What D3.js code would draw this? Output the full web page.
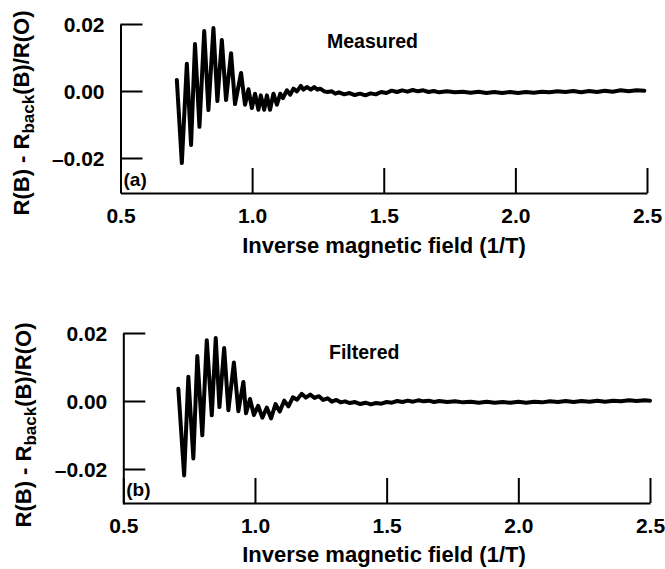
<!DOCTYPE html>
<html>
<head>
<meta charset="utf-8">
<script src="https://cdn.jsdelivr.net/npm/d3@7"></script>
<style>
  html, body { margin: 0; padding: 0; background: #fff; }
  svg { display: block; font-family: "Liberation Sans", Arial, Helvetica, sans-serif; }
  .tick text { font-size: 21px; font-weight: 700; fill: #000; }
  .lbl { font-weight: 700; fill: #000; }
</style>
</head>
<body>
<svg id="fig" width="665" height="569"></svg>
<script>
/* Quantum oscillations vs inverse field — measured and filtered trace.
   Values (extrema + a few points on the flat tail). */

const xTicks = [0.5, 1.0, 1.5, 2.0, 2.5];
const xTickLabels = ["0.5", "1.0", "1.5", "2.0", "2.5"];
const yTicks = [0.02, 0.0, -0.02];
const yTickLabels = ["0.02", "0.00", "\u20130.02"];

// panel (a) measured: [1/B, dR]
const measured = [
  [0.714, 0.0033], [0.733, -0.0215], [0.752, 0.0081], [0.768, -0.0161], [0.783, 0.0140],
  [0.800, -0.0107], [0.818, 0.0179], [0.834, -0.0057], [0.853, 0.0188], [0.868, -0.0030],
  [0.885, 0.0152], [0.901, -0.0027], [0.920, 0.0113], [0.935, -0.0039], [0.958, 0.0054],
  [0.973, -0.0041], [0.986, 0.0005], [0.999, -0.0051], [1.011, -0.0008], [1.024, -0.0056],
  [1.033, -0.0013], [1.046, -0.0056], [1.056, -0.0013], [1.068, -0.0056], [1.081, -0.0008],
  [1.094, -0.0041], [1.107, -0.0008], [1.117, -0.0021], [1.132, 0.0002], [1.145, -0.0011],
  [1.157, 0.0007], [1.170, -0.0001], [1.185, 0.0015], [1.195, 0.0004], [1.208, 0.0012],
  [1.223, 0.0004], [1.236, 0.0012], [1.248, 0.0004], [1.259, 0.0007], [1.274, -0.0001],
  [1.286, -0.0003], [1.303, -0.0001], [1.316, -0.0008], [1.33, -0.0004], [1.35, -0.0010],
  [1.37, -0.0006], [1.39, -0.0012], [1.41, -0.0008], [1.43, -0.0013], [1.45, -0.0007],
  [1.47, -0.0010], [1.49, -0.0003], [1.51, -0.0006], [1.53, 0.0001], [1.55, -0.0003],
  [1.57, 0.0002], [1.59, -0.0002], [1.61, 0.0003], [1.63, -0.0001], [1.65, 0.0002],
  [1.67, -0.0003], [1.69, 0.0000], [1.71, -0.0004], [1.74, -0.0001], [1.77, -0.0004],
  [1.80, -0.0002], [1.83, -0.0005], [1.86, -0.0002], [1.89, -0.0006], [1.92, -0.0003],
  [1.95, -0.0006], [1.98, -0.0003], [2.01, -0.0006], [2.04, -0.0003], [2.07, -0.0005],
  [2.10, -0.0002], [2.13, -0.0004], [2.16, -0.0001], [2.19, -0.0003], [2.22, 0.0000],
  [2.25, -0.0004], [2.28, 0.0000], [2.31, -0.0003], [2.34, 0.0001], [2.37, -0.0002],
  [2.40, 0.0002], [2.43, -0.0001], [2.46, 0.0002], [2.49, 0.0001]
];

// panel (b) filtered: [1/B, dR]
const filtered = [
  [0.709, 0.0036], [0.731, -0.0219], [0.747, 0.0071], [0.766, -0.0169], [0.781, 0.0132],
  [0.800, -0.0101], [0.817, 0.0179], [0.836, -0.0042], [0.851, 0.0185], [0.865, -0.0018],
  [0.883, 0.0156], [0.899, -0.0027], [0.920, 0.0113], [0.937, -0.0030], [0.956, 0.0056],
  [0.966, -0.0036], [0.981, 0.0006], [0.996, -0.0041], [1.012, -0.0014], [1.028, -0.0049],
  [1.045, -0.0019], [1.061, -0.0051], [1.078, -0.0009], [1.094, -0.0031], [1.111, 0.0001],
  [1.127, -0.0016], [1.144, 0.0011], [1.160, 0.0004], [1.177, 0.0021], [1.193, 0.0010],
  [1.210, 0.0019], [1.226, 0.0009], [1.243, 0.0014], [1.259, 0.0003], [1.276, 0.0008],
  [1.292, -0.0002], [1.309, 0.0003], [1.325, -0.0004], [1.342, -0.0001], [1.36, -0.0006],
  [1.38, -0.0003], [1.40, -0.0009], [1.42, -0.0005], [1.44, -0.0010], [1.46, -0.0006],
  [1.48, -0.0008], [1.50, -0.0003], [1.52, -0.0005], [1.54, 0.0000], [1.56, -0.0003],
  [1.58, 0.0001], [1.60, -0.0002], [1.62, 0.0002], [1.64, -0.0001], [1.66, 0.0001],
  [1.68, -0.0003], [1.70, 0.0000], [1.73, -0.0003], [1.76, -0.0001], [1.79, -0.0004],
  [1.82, -0.0002], [1.85, -0.0005], [1.88, -0.0002], [1.91, -0.0005], [1.94, -0.0003],
  [1.97, -0.0005], [2.00, -0.0002], [2.03, -0.0005], [2.06, -0.0002], [2.09, -0.0004],
  [2.12, -0.0001], [2.15, -0.0003], [2.18, 0.0000], [2.21, -0.0003], [2.24, 0.0000],
  [2.27, -0.0002], [2.30, 0.0001], [2.33, -0.0002], [2.36, 0.0001], [2.39, -0.0001],
  [2.42, 0.0002], [2.45, 0.0000], [2.48, 0.0002], [2.50, 0.0001]
];

const panels = [
  { data: measured, tag: "(a)", name: "Measured",
    x0: 120.5, x1: 647, yTop: 24, yBot: 158, axisY: 193, bottomVal: -0.03045,
    nameX: 327, nameY: 48, ytitleX: 29, ytitleY: 113, xtitleY: 253 },
  { data: filtered, tag: "(b)", name: "Filtered",
    x0: 123.3, x1: 650, yTop: 333, yBot: 469, axisY: 503, bottomVal: -0.0303,
    nameX: 329, nameY: 359, ytitleX: 31, ytitleY: 425, xtitleY: 562 },
];

const svg = d3.select("#fig");

panels.forEach(p => {
  const x = d3.scaleLinear().domain([0.5, 2.5]).range([p.x0, p.x1]);
  // y: 0.02 -> yTop, -0.02 -> yBot
  const y = d3.scaleLinear().domain([-0.02, 0.02]).range([p.yBot, p.yTop]);
  const yAx = d3.scaleLinear().domain([p.bottomVal, 0.02]).range([y(p.bottomVal), p.yTop]);

  const gy = svg.append("g").attr("transform", `translate(${p.x0},0)`)
    .call(d3.axisLeft(yAx).tickValues(yTicks).tickSizeInner(-22).tickSizeOuter(0).tickPadding(16)
      .tickFormat((d, i) => yTickLabels[i]));
  const gx = svg.append("g").attr("transform", `translate(0,${p.axisY})`)
    .call(d3.axisBottom(x).tickValues(xTicks).tickSizeInner(-25).tickSizeOuter(0).tickPadding(15)
      .tickFormat((d, i) => xTickLabels[i]));
  [gy, gx].forEach(g => {
    g.attr("font-family", null).attr("font-size", null);
    g.selectAll("path.domain, .tick line").attr("stroke", "#000").attr("stroke-width", 2);
  });
  gy.selectAll(".tick text").attr("dy", "0.36em");

  svg.append("path").datum(p.data)
    .attr("fill", "none").attr("stroke", "#000").attr("stroke-width", 4)
    .attr("stroke-linejoin", "round").attr("stroke-linecap", "round")
    .attr("d", d3.line().x(d => x(d[0])).y(d => y(d[1])));

  svg.append("text").attr("class", "lbl").attr("x", p.x0 + 3).attr("y", p.axisY - 7)
    .style("font-size", "19px").text(p.tag);
  svg.append("text").attr("class", "lbl").attr("x", p.nameX).attr("y", p.nameY)
    .style("font-size", "19.5px").text(p.name);

  svg.append("text").attr("class", "lbl").attr("x", 384).attr("y", p.xtitleY)
    .attr("text-anchor", "middle").style("font-size", "22px").text("Inverse magnetic field (1/T)");

  const yt = svg.append("text").attr("class", "lbl")
    .attr("transform", `translate(${p.ytitleX},${p.ytitleY}) rotate(-90)`)
    .attr("text-anchor", "middle").style("font-size", "22px");
  yt.append("tspan").text("R(B) - R");
  yt.append("tspan").attr("dy", 5).style("font-size", "17px").text("back");
  yt.append("tspan").attr("dy", -5).text("(B)/R(O)");
});
</script>
</body>
</html>
